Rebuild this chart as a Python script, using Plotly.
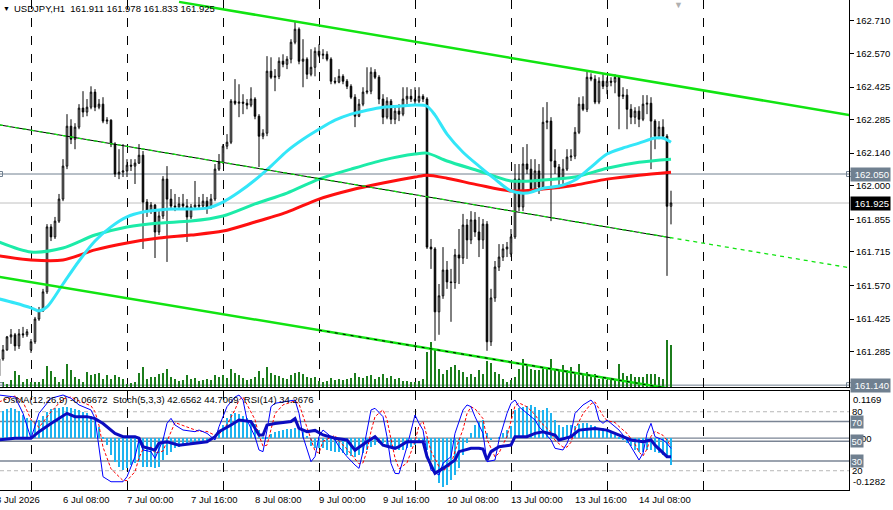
import plotly.graph_objects as go

# ---------------- DATA ----------------
FIRST_BAR = -8          # bar index of the first visible H1 bar (6 Jul 00:00 = bar 0)

opens = [161.180, 161.253, 161.292, 161.348, 161.357, 161.309, 161.361, 161.357,
         161.292, 161.327, 161.425, 161.460, 161.542, 161.822, 161.779, 161.847, 161.942, 162.084,
         162.256, 162.200, 162.252, 162.334, 162.317, 162.338, 162.403, 162.338, 162.351, 162.278,
         162.282, 162.179, 162.050, 162.058, 162.063, 162.088, 162.084, 162.097, 162.131, 161.929,
         161.890, 161.916, 161.800, 161.869, 162.028, 161.942, 161.912, 161.908, 161.921, 161.912,
         161.865, 161.908, 161.916, 161.912, 161.933, 161.908, 161.942, 162.071, 162.101, 162.170,
         162.187, 162.364, 162.355, 162.360, 162.355, 162.347, 162.373, 162.299, 162.213, 162.226,
         162.493, 162.467, 162.471, 162.536, 162.523, 162.545, 162.618, 162.674, 162.536, 162.545,
         162.480, 162.510, 162.579, 162.562, 162.566, 162.545, 162.450, 162.446, 162.471, 162.450,
         162.428, 162.381, 162.299, 162.351, 162.403, 162.407, 162.489, 162.467, 162.373, 162.295,
         162.364, 162.286, 162.321, 162.308, 162.373, 162.385, 162.373, 162.364, 162.385, 162.373,
         161.735, 161.727, 161.456, 161.525, 161.636, 161.585, 161.582, 161.701, 161.688, 161.830,
         161.766, 161.852, 161.800, 161.766, 161.834, 161.327, 161.516, 161.649, 161.692, 161.727,
         161.705, 161.779, 162.028, 161.908, 162.093, 162.071, 161.985, 162.063, 161.994, 162.273,
         162.278, 162.106, 162.080, 162.028, 162.071, 162.123, 162.127, 162.230, 162.351, 162.329,
         162.467, 162.459, 162.360, 162.450, 162.428, 162.450, 162.446, 162.467, 162.385, 162.390,
         162.329, 162.295, 162.321, 162.286, 162.351, 162.355, 162.278, 162.213, 162.252, 162.213,
         161.911]
highs = [161.275, 161.313, 161.352, 161.382, 161.365, 161.382, 161.391, 161.382,
         161.339, 161.434, 161.477, 161.555, 161.834, 161.834, 161.865, 161.964, 162.114, 162.308,
         162.286, 162.269, 162.351, 162.407, 162.373, 162.428, 162.416, 162.373, 162.381, 162.295,
         162.286, 162.187, 162.157, 162.179, 162.114, 162.114, 162.114, 162.179, 162.149, 161.942,
         161.929, 161.921, 161.890, 162.041, 162.084, 161.985, 161.964, 161.951, 161.964, 161.942,
         161.921, 162.020, 161.951, 161.964, 161.951, 161.964, 162.093, 162.136, 162.179, 162.222,
         162.373, 162.459, 162.437, 162.394, 162.373, 162.424, 162.381, 162.308, 162.243, 162.558,
         162.553, 162.502, 162.553, 162.566, 162.558, 162.631, 162.708, 162.682, 162.631, 162.553,
         162.588, 162.596, 162.609, 162.588, 162.579, 162.553, 162.467, 162.502, 162.480, 162.459,
         162.437, 162.394, 162.373, 162.424, 162.510, 162.510, 162.502, 162.476, 162.394, 162.381,
         162.373, 162.338, 162.351, 162.424, 162.424, 162.416, 162.424, 162.424, 162.394, 162.381,
         161.770, 161.735, 161.576, 161.735, 161.675, 161.641, 161.727, 161.813, 161.878, 161.856,
         161.890, 161.886, 161.865, 161.856, 161.847, 161.555, 161.675, 161.748, 161.748, 161.757,
         161.813, 162.093, 162.093, 162.166, 162.179, 162.114, 162.114, 162.093, 162.338, 162.360,
         162.295, 162.157, 162.093, 162.114, 162.157, 162.157, 162.252, 162.381, 162.385, 162.493,
         162.484, 162.476, 162.467, 162.480, 162.467, 162.467, 162.480, 162.476, 162.424, 162.416,
         162.351, 162.338, 162.342, 162.390, 162.390, 162.381, 162.286, 162.278, 162.286, 162.222,
         161.978]
lows = [161.159, 161.245, 161.288, 161.318, 161.288, 161.296, 161.344, 161.348,
        161.279, 161.318, 161.417, 161.456, 161.533, 161.761, 161.770, 161.839, 161.933, 162.071,
        162.179, 162.157, 162.243, 162.295, 162.299, 162.329, 162.321, 162.329, 162.269, 162.265,
        162.166, 162.037, 162.028, 162.037, 162.037, 162.063, 162.007, 162.093, 161.727, 161.865,
        161.878, 161.688, 161.787, 161.856, 161.671, 161.899, 161.890, 161.899, 161.899, 161.757,
        161.856, 161.899, 161.899, 161.899, 161.878, 161.899, 161.933, 162.063, 162.093, 162.157,
        162.179, 162.347, 162.295, 162.308, 162.329, 162.338, 162.286, 162.080, 162.200, 162.213,
        162.459, 162.407, 162.459, 162.510, 162.502, 162.527, 162.609, 162.523, 162.424, 162.459,
        162.471, 162.471, 162.553, 162.545, 162.536, 162.437, 162.437, 162.441, 162.437, 162.416,
        162.373, 162.252, 162.295, 162.342, 162.394, 162.394, 162.459, 162.351, 162.265, 162.286,
        162.265, 162.265, 162.278, 162.299, 162.351, 162.360, 162.351, 162.355, 162.360, 161.727,
        161.641, 161.331, 161.357, 161.512, 161.555, 161.413, 161.555, 161.576, 161.662, 161.684,
        161.748, 161.779, 161.692, 161.727, 161.288, 161.309, 161.499, 161.632, 161.675, 161.692,
        161.692, 161.770, 161.890, 161.890, 162.050, 161.977, 161.977, 161.964, 161.985, 162.243,
        161.847, 162.050, 161.985, 162.007, 162.063, 162.106, 162.114, 162.222, 162.321, 162.317,
        162.450, 162.351, 162.351, 162.416, 162.394, 162.428, 162.398, 162.243, 162.373, 162.243,
        162.265, 162.265, 162.252, 162.278, 162.308, 162.071, 162.157, 162.200, 162.200, 161.611,
        161.833]
closes = [161.253, 161.292, 161.348, 161.357, 161.309, 161.361, 161.357, 161.370,
          161.327, 161.425, 161.460, 161.542, 161.822, 161.779, 161.847, 161.942, 162.084, 162.256,
          162.200, 162.252, 162.334, 162.317, 162.338, 162.403, 162.338, 162.351, 162.278, 162.282,
          162.179, 162.050, 162.058, 162.063, 162.088, 162.084, 162.097, 162.131, 161.929, 161.890,
          161.916, 161.800, 161.869, 162.028, 161.942, 161.912, 161.908, 161.921, 161.912, 161.865,
          161.908, 161.916, 161.912, 161.933, 161.908, 161.942, 162.071, 162.101, 162.170, 162.187,
          162.364, 162.355, 162.360, 162.355, 162.347, 162.373, 162.299, 162.213, 162.226, 162.493,
          162.467, 162.471, 162.536, 162.523, 162.545, 162.618, 162.674, 162.536, 162.545, 162.480,
          162.510, 162.579, 162.562, 162.566, 162.545, 162.450, 162.446, 162.471, 162.450, 162.428,
          162.381, 162.299, 162.351, 162.403, 162.407, 162.489, 162.467, 162.373, 162.295, 162.364,
          162.286, 162.321, 162.308, 162.373, 162.385, 162.373, 162.364, 162.385, 162.373, 161.735,
          161.727, 161.456, 161.525, 161.636, 161.585, 161.582, 161.701, 161.688, 161.830, 161.766,
          161.852, 161.800, 161.766, 161.834, 161.327, 161.516, 161.649, 161.692, 161.727, 161.735,
          161.779, 162.028, 161.908, 162.093, 162.071, 161.985, 162.063, 161.994, 162.273, 162.278,
          162.106, 162.080, 162.028, 162.071, 162.123, 162.127, 162.230, 162.351, 162.329, 162.467,
          162.459, 162.360, 162.450, 162.428, 162.450, 162.446, 162.467, 162.385, 162.390, 162.329,
          162.295, 162.321, 162.286, 162.351, 162.355, 162.278, 162.213, 162.252, 162.213, 161.911,
          161.925]
volumes = [400, 500, 300, 700, 1600, 1200, 500, 800,
           500, 500, 500, 800, 2100, 1600, 1000, 500, 800, 2300,
           1700, 1000, 800, 500, 1500, 1200, 1300, 1400, 800, 1200,
           800, 1200, 1000, 800, 300, 400, 500, 1400, 2000, 800,
           1000, 1000, 1300, 1400, 1800, 1000, 800, 600, 700, 1200,
           800, 900, 600, 700, 800, 700, 1200, 1000, 1200, 900,
           1800, 1400, 1200, 900, 700, 800, 1000, 1600, 900, 2000,
           1400, 1200, 1100, 900, 800, 1200, 1400, 1500, 1300, 1000,
           900, 1000, 600, 500, 600, 900, 700, 800, 700, 800,
           900, 1400, 1000, 900, 1100, 1200, 800, 1000, 1300, 900,
           1100, 800, 900, 600, 600, 500, 500, 600, 800, 3500,
           4500, 3700, 1800, 1300, 1700, 2000, 2200, 1700, 1500, 1000,
           1300, 1000, 1700, 1300, 2600, 2400, 1500, 1300, 800, 500,
           700, 1000, 1800, 2800, 2200, 1800, 1700, 1700, 2000, 1800,
           2800, 1800, 1700, 2200, 1700, 2000, 1300, 2300, 1300, 1500,
           1200, 1300, 800, 1000, 700, 700, 800, 2300, 1400, 1100,
           1300, 1000, 1000, 1000, 1300, 1300, 1300, 1000, 800, 4700,
           4200]
osma = [0.066, 0.067, 0.072, 0.075, 0.072, 0.067, 0.057, 0.050,
        0.045, 0.040, 0.045, 0.055, 0.065, 0.072, 0.075, 0.075, 0.078, 0.078,
        0.075, 0.072, 0.070, 0.066, 0.062, 0.055, 0.045, 0.028, 0.003, -0.017,
        -0.042, -0.059, -0.071, -0.079, -0.074, -0.066, -0.061, -0.059, -0.071, -0.071,
        -0.071, -0.074, -0.071, -0.054, -0.042, -0.033, -0.024, -0.021, -0.017, -0.014,
        -0.013, -0.011, -0.009, -0.009, -0.007, -0.002, 0.005, 0.015, 0.033, 0.050,
        0.060, 0.062, 0.060, 0.055, 0.050, 0.045, 0.035, 0.020, 0.003, 0.003,
        0.010, 0.015, 0.018, 0.020, 0.022, 0.023, 0.025, 0.020, 0.015, 0.005,
        -0.019, -0.024, -0.024, -0.024, -0.029, -0.031, -0.033, -0.033, -0.037, -0.042,
        -0.044, -0.046, -0.042, -0.037, -0.029, -0.021, -0.017, -0.013, -0.013, -0.021,
        -0.024, -0.024, -0.029, -0.029, -0.024, -0.022, -0.017, -0.012, -0.009, -0.029,
        -0.054, -0.086, -0.111, -0.120, -0.116, -0.103, -0.091, -0.074, -0.042, -0.012,
        0.013, 0.033, 0.040, 0.045, 0.013, -0.004, 0.000, 0.003, 0.013, 0.020,
        0.030, 0.070, 0.075, 0.077, 0.080, 0.082, 0.078, 0.070, 0.070, 0.075,
        0.062, 0.045, 0.033, 0.028, 0.033, 0.033, 0.030, 0.035, 0.038, 0.038,
        0.033, 0.030, 0.025, 0.025, 0.020, 0.015, 0.008, 0.003, -0.004, -0.012,
        -0.019, -0.029, -0.034, -0.034, -0.029, -0.029, -0.034, -0.037, -0.042, -0.049,
        -0.06672]

# moving averages (sampled bars)
fast_ma_bars = [-8, -4, 0, 2, 4, 8, 12, 16, 20, 24, 28, 32, 36, 40, 44, 48, 52, 56, 60, 64,
                68, 72, 76, 80, 84, 88, 92, 96, 99, 101, 104, 108, 112, 116, 120, 124, 128, 132,
                136, 140, 144, 148, 152, 156, 158, 160]
fast_ma = [161.512, 161.494, 161.473, 161.460, 161.477, 161.576, 161.675, 161.761, 161.822, 161.865,
           161.886, 161.895, 161.899, 161.899, 161.903, 161.929, 161.972, 162.024, 162.084, 162.149,
           162.200, 162.243, 162.282, 162.308, 162.325, 162.338, 162.342, 162.347, 162.342, 162.304,
           162.222, 162.144, 162.084, 162.028, 161.977, 161.968, 161.989, 161.998, 162.024, 162.080,
           162.136, 162.162, 162.183, 162.205, 162.205, 162.187]
slow_ma_bars = [-8, 0, 8, 16, 24, 32, 40, 48, 56, 64, 72, 80, 88, 96, 99, 104, 112, 120, 128,
                136, 144, 152, 160]
mid_ma = [161.757, 161.714, 161.731, 161.787, 161.822, 161.839, 161.847, 161.869, 161.921, 161.968,
          162.028, 162.071, 162.110, 162.136, 162.140, 162.106, 162.063, 162.020, 162.024, 162.037,
          162.075, 162.101, 162.114]
slow_ma = [161.697, 161.679, 161.679, 161.723, 161.753, 161.774, 161.787, 161.804, 161.843, 161.886,
           161.942, 161.981, 162.011, 162.037, 162.045, 162.032, 162.002, 161.977, 161.985, 162.002,
           162.028, 162.045, 162.058]

# channel trend lines (anchor bars, prices)
upper_bars, upper_prices = [37, 205], [162.792, 162.303]
middle_bars, middle_prices = [-8, 160, 205], [162.262, 161.775, 161.645]
lower_bars, lower_prices = [-8, 160], [161.607, 161.124]
lower_mark_bars, lower_mark_prices = [72, 160], [161.377, 161.124]

# oscillators
rsi_bars = [-8, -4, 0, 2, 5, 9, 11, 14, 16, 18, 21, 23, 26, 27, 28, 31, 32, 34, 37, 41,
            44, 46, 47, 50, 52, 55, 57, 58, 59, 61, 65, 66, 67, 69, 71, 73, 76, 79, 81, 84,
            86, 88, 91, 92, 94, 98, 99, 101, 103, 106, 107, 110, 112, 113, 114, 115, 117, 120,
            121, 124, 126, 128, 131, 132, 135, 137, 141, 144, 147, 150, 153, 155, 156, 159, 160]
rsi = [51.3, 53.0, 53.0, 59.7, 68.0, 78.4, 75.0, 75.0, 73.0, 68.0, 58.0, 54.6, 54.6, 53.0, 44.5,
       41.0, 48.0, 49.5, 46.0, 48.0, 49.5, 54.6, 59.7, 66.5, 71.6, 70.0, 56.4, 56.4, 66.5, 68.0,
       70.0, 73.0, 63.0, 59.7, 61.0, 56.4, 53.0, 51.3, 41.0, 49.5, 54.6, 46.0, 42.8, 44.5, 49.5,
       49.5, 34.3, 17.4, 22.4, 30.9, 39.4, 42.8, 42.8, 42.0, 30.9, 39.4, 44.5, 46.1, 54.6, 54.6,
       58.0, 59.7, 56.4, 51.3, 54.6, 61.3, 63.0, 61.3, 56.4, 51.3, 49.5, 51.3, 46.0, 34.3, 34.2676]
stoch_bars = [-8, -4, -2, 0, 2, 5, 8, 10, 12, 15, 16, 17, 18, 20, 23, 24, 26, 27, 28, 30,
              31, 33, 34, 35, 36, 38, 41, 42, 44, 46, 47, 49, 51, 52, 53, 54, 56, 57, 58, 59,
              60, 61, 63, 65, 66, 67, 68, 70, 71, 72, 73, 76, 77, 79, 81, 82, 83, 84, 85, 86,
              88, 89, 90, 91, 92, 94, 96, 97, 98, 99, 100, 102, 103, 105, 106, 108, 109, 110, 111, 113,
              114, 116, 117, 119, 120, 121, 122, 124, 126, 127, 130, 131, 133, 134, 135, 136, 138, 140, 141, 142,
              143, 144, 146, 147, 149, 151, 152, 153, 154, 155, 156, 158, 159, 160]
stoch_main = [97.0, 95.0, 78.4, 52.9, 78.4, 93.7, 97.0, 93.7, 86.9, 81.8,
              73.3, 44.5, 13.9, 8.8, 8.8, 13.9, 34.3, 51.3, 41.1, 39.4,
              32.6, 51.3, 68.2, 73.3, 66.5, 61.4, 59.7, 61.4, 58.0, 51.3,
              64.8, 85.2, 95.0, 97.0, 91.9, 71.6, 54.6, 41.1, 39.4, 61.4,
              85.2, 88.6, 90.3, 91.3, 91.9, 78.4, 54.6, 29.2, 34.3, 54.6,
              61.4, 51.3, 44.5, 34.3, 25.8, 22.4, 39.4, 61.4, 81.8, 83.5,
              75.0, 54.6, 27.5, 17.3, 17.0, 44.5, 76.7, 68.2, 61.4, 37.7,
              20.7, 15.6, 27.5, 34.3, 58.0, 81.8, 86.9, 85.2, 75.0, 58.0,
              29.2, 30.9, 51.3, 78.4, 88.6, 91.9, 85.2, 78.4, 71.6, 64.8,
              51.3, 42.8, 41.1, 47.9, 58.0, 78.4, 86.9, 91.9, 86.9, 71.6,
              68.2, 71.6, 64.8, 61.4, 51.3, 37.7, 30.9, 37.7, 58.0, 68.2,
              54.6, 51.3, 47.9, 42.6562]
stoch_signal = [90, 96, 90, 72, 64, 80, 93, 95, 91, 86,
                80, 66, 44, 22, 10, 10, 19, 33, 42, 44,
                38, 40, 50, 60, 69, 66, 61, 60, 60, 56,
                57, 67, 82, 92, 95, 87, 72, 56, 45, 46,
                62, 78, 87, 90, 91, 88, 76, 54, 40, 38,
                50, 56, 50, 42, 32, 27, 28, 40, 60, 75,
                82, 72, 52, 33, 22, 28, 50, 66, 70, 56,
                40, 24, 20, 26, 40, 62, 78, 85, 83, 73,
                52, 34, 38, 55, 72, 86, 89, 85, 77, 71,
                59, 51, 44, 44, 49, 62, 78, 88, 90, 83,
                76, 71, 69, 65, 58, 47, 39, 35, 42, 55,
                60, 56, 51, 44.7069]

# horizontal price objects
level_line_prices = [162.050, 161.140]
bid_price = 161.925

# axes / labels
price_ticks = [162.710, 162.570, 162.425, 162.285, 162.140, 162.000,
               161.855, 161.715, 161.570, 161.425, 161.285]
day_start_bars = [0, 24, 48, 72, 96, 120, 144, 168]
time_label_bars = [-8.8, 8, 24, 40, 56, 72, 88, 104, 120, 136, 152]
time_labels = ["3 Jul 2026", "6 Jul 08:00", "7 Jul 00:00", "7 Jul 16:00", "8 Jul 08:00",
               "9 Jul 00:00", "9 Jul 16:00", "10 Jul 08:00", "13 Jul 00:00", "13 Jul 16:00",
               "14 Jul 08:00"]
stoch_levels_dashed = [80, 20]
stoch_levels_solid = [70, 50, 30]
OSMA_RANGE = [-0.1282, 0.1169]

# ---------------- LAYOUT CONSTANTS ----------------
W, H = 893, 510
X_RANGE = [-7.75, 204.5]
PRICE_RANGE = [161.132, 162.800]
VOL_RANGE = [0, 38700]
OSC_RANGE = [0.4, 101.1]
MAIN_BOTTOM = 1 - 387 / 490
IND_TOP = (490 - 391) / 490
FONT = "Liberation Sans, Arial, sans-serif"
FS = 9.5
GRAY = "#708090"

bars = list(range(FIRST_BAR, FIRST_BAR + len(closes)))

fig = go.Figure()

# volumes (base main subplot, drawn underneath)
fig.add_trace(go.Bar(x=bars, y=volumes, width=0.25, marker=dict(color="#1c7c1c", line=dict(width=0)),
                     xaxis="x", yaxis="y", hoverinfo="skip"))

# candles
fig.add_trace(go.Candlestick(
    x=bars, open=opens, high=highs, low=lows, close=closes, xaxis="x", yaxis="y4",
    increasing=dict(line=dict(color="black", width=1), fillcolor="white"),
    decreasing=dict(line=dict(color="black", width=1), fillcolor="black"),
    whiskerwidth=0, hoverinfo="skip"))

# moving averages
for xs, ys, col in [(slow_ma_bars, slow_ma, "#FF1010"),
                    (slow_ma_bars, mid_ma, "#1CEBA8"),
                    (fast_ma_bars, fast_ma, "#33E6F8")]:
    fig.add_trace(go.Scatter(x=xs, y=ys, mode="lines", line=dict(color=col, width=3, shape="spline", smoothing=0.8),
                             xaxis="x", yaxis="y4", hoverinfo="skip"))

# channel lines
fig.add_trace(go.Scatter(x=upper_bars, y=upper_prices, mode="lines", line=dict(color="#11E411", width=2.5),
                         xaxis="x", yaxis="y4", hoverinfo="skip"))
fig.add_trace(go.Scatter(x=lower_bars, y=lower_prices, mode="lines", line=dict(color="#11E411", width=2.5),
                         xaxis="x", yaxis="y4", hoverinfo="skip"))
fig.add_trace(go.Scatter(x=lower_mark_bars, y=lower_mark_prices, mode="lines",
                         line=dict(color="black", width=1, dash="3px,5px"),
                         xaxis="x", yaxis="y4", hoverinfo="skip"))
fig.add_trace(go.Scatter(x=middle_bars[:2], y=middle_prices[:2], mode="lines", line=dict(color="black", width=1),
                         xaxis="x", yaxis="y4", hoverinfo="skip"))
fig.add_trace(go.Scatter(x=middle_bars, y=middle_prices, mode="lines",
                         line=dict(color="#11E411", width=1.3, dash="4px,4px"),
                         xaxis="x", yaxis="y4", hoverinfo="skip"))

# end markers of horizontal line objects
for p in level_line_prices:
    fig.add_trace(go.Scatter(x=X_RANGE, y=[p, p], mode="markers", cliponaxis=False,
                             marker=dict(symbol="square-open", size=5, color=GRAY, line=dict(width=1, color=GRAY)),
                             xaxis="x", yaxis="y4", hoverinfo="skip"))

# OsMA histogram (base indicator subplot)
fig.add_trace(go.Bar(x=bars, y=osma, width=0.65, marker=dict(color="#1EB4F0", line=dict(width=0)),
                     xaxis="x2", yaxis="y2", hoverinfo="skip"))
# Stochastic + RSI
fig.add_trace(go.Scatter(x=stoch_bars, y=stoch_signal, mode="lines", line=dict(color="#FF0000", width=1, dash="3px,2px"),
                         xaxis="x2", yaxis="y3", hoverinfo="skip"))
fig.add_trace(go.Scatter(x=stoch_bars, y=stoch_main, mode="lines", line=dict(color="#0000FF", width=1),
                         xaxis="x2", yaxis="y3", hoverinfo="skip"))
fig.add_trace(go.Scatter(x=rsi_bars, y=rsi, mode="lines", line=dict(color="#0C0CC0", width=3),
                         xaxis="x2", yaxis="y3", hoverinfo="skip"))

shapes = []
for p in level_line_prices:
    shapes.append(dict(type="line", xref="paper", x0=0, x1=1, yref="y4", y0=p, y1=p,
                       line=dict(color=GRAY, width=1), layer="below"))
shapes.append(dict(type="line", xref="paper", x0=0, x1=1, yref="y4", y0=bid_price, y1=bid_price,
                   line=dict(color="#C0C0C0", width=1), layer="below"))
for lv in stoch_levels_dashed:
    shapes.append(dict(type="line", xref="paper", x0=0, x1=1, yref="y3", y0=lv, y1=lv,
                       line=dict(color="#B8B8B8", width=1, dash="4px,3px"), layer="below"))
for lv in stoch_levels_solid:
    shapes.append(dict(type="line", xref="paper", x0=0, x1=1, yref="y3", y0=lv, y1=lv,
                       line=dict(color="#7A8494", width=1.5), layer="below"))
shapes.append(dict(type="line", xref="paper", x0=0, x1=1, yref="y2", y0=0, y1=0,
                   line=dict(color="#7A8494", width=1.2), layer="below"))

ann = []
# chart title
ann.append(dict(text="▼", xref="paper", yref="paper", x=0, y=1, xanchor="left", yanchor="top",
                xshift=1, yshift=-3, showarrow=False, font=dict(size=7, color="black", family=FONT)))
title = "USDJPY,H1\u00a0\u00a0{:.3f} {:.3f} {:.3f} {:.3f}".format(opens[-1], highs[-1], lows[-1], closes[-1])
ann.append(dict(text=title, xref="paper", yref="paper", x=0, y=1, xanchor="left", yanchor="top",
                xshift=12, yshift=-1, showarrow=False, font=dict(size=FS, color="black", family=FONT)))
# indicator title
ind_title = "OsMA(12,26,9) {:.5f}\u00a0\u00a0Stoch(5,3,3) {:.4f} {:.4f}\u00a0\u00a0RSI(14) {:.4f}".format(
    osma[-1], stoch_main[-1], stoch_signal[-1], rsi[-1])
ann.append(dict(text=ind_title, xref="paper", yref="paper", x=0, y=IND_TOP, xanchor="left", yanchor="top",
                xshift=1, yshift=-1, showarrow=False, font=dict(size=FS, color="black", family=FONT)))
# time labels (left-aligned at their bar, like MT4)
x_span = X_RANGE[1] - X_RANGE[0]
for b, t in zip(time_label_bars, time_labels):
    ann.append(dict(text=t, xref="paper", yref="paper", x=(b - X_RANGE[0]) / x_span, y=0,
                    xanchor="left", yanchor="top", xshift=-2, yshift=-2, showarrow=False,
                    font=dict(size=FS, color="black", family=FONT)))
# price boxes on right axis
for p, bg in [(level_line_prices[0], GRAY), (bid_price, "black"), (level_line_prices[1], GRAY)]:
    ann.append(dict(text="\u00a0{:.3f}".format(p), xref="paper", yref="y4", x=1, y=p, xanchor="left",
                    yanchor="middle", xshift=1, showarrow=False, bgcolor=bg, borderpad=1,
                    font=dict(size=FS, color="white", family=FONT)))
# indicator scale labels
ann.append(dict(text="{:.4f}".format(OSMA_RANGE[1]), xref="paper", yref="y2", x=1, y=OSMA_RANGE[1],
                xanchor="left", yanchor="top", xshift=2, yshift=-1, showarrow=False,
                font=dict(size=FS, color="black", family=FONT)))
ann.append(dict(text="{:.4f}".format(OSMA_RANGE[0]), xref="paper", yref="y2", x=1, y=OSMA_RANGE[0],
                xanchor="left", yanchor="bottom", xshift=2, yshift=1, showarrow=False,
                font=dict(size=FS, color="black", family=FONT)))
ann.append(dict(text="0.00", xref="paper", yref="y2", x=1, y=0, xanchor="left", yanchor="middle",
                xshift=2, showarrow=False, font=dict(size=FS, color="black", family=FONT)))
for lv in stoch_levels_dashed:
    ann.append(dict(text=str(lv), xref="paper", yref="y3", x=1, y=lv, xanchor="left", yanchor="middle",
                    xshift=1, showarrow=False, font=dict(size=FS, color="black", family=FONT)))
for lv in stoch_levels_solid:
    ann.append(dict(text=str(lv), xref="paper", yref="y3", x=1, y=lv, xanchor="left", yanchor="middle",
                    xshift=1, showarrow=False, bgcolor=GRAY, borderpad=0.5,
                    font=dict(size=FS, color="white", family=FONT)))
# chart shift marker
ann.append(dict(text="▼", xref="paper", yref="paper", x=678 / 849, y=1, xanchor="center", yanchor="top",
                yshift=2, showarrow=False, font=dict(size=9, color="#B0B0B0", family=FONT)))

fig.update_layout(
    width=W, height=H, margin=dict(l=0, r=44, t=0, b=20),
    paper_bgcolor="white", plot_bgcolor="white", showlegend=False, hovermode=False,
    boxgap=0.45, bargap=0, font=dict(family=FONT, size=FS, color="black"),
    shapes=shapes, annotations=ann,
    xaxis=dict(domain=[0, 1], anchor="y", range=X_RANGE, tickvals=day_start_bars, showticklabels=False,
               ticks="", showgrid=True, gridcolor="black", griddash="dash", gridwidth=1,
               showline=True, linecolor="black", linewidth=1, zeroline=False,
               rangeslider=dict(visible=False), fixedrange=True),
    yaxis=dict(domain=[MAIN_BOTTOM, 1], anchor="x", range=VOL_RANGE, visible=False, fixedrange=True),
    yaxis4=dict(overlaying="y", anchor="x", side="right", range=PRICE_RANGE, tickvals=price_ticks,
                ticktext=["{:.3f}".format(v) for v in price_ticks], ticks="outside", ticklen=4,
                tickcolor="black", showline=True, linecolor="black", linewidth=1, showgrid=False,
                zeroline=False, tickfont=dict(size=FS, color="black", family=FONT), fixedrange=True),
    xaxis2=dict(domain=[0, 1], anchor="y2", matches="x", range=X_RANGE, tickvals=day_start_bars,
                showticklabels=False, ticks="", showgrid=True, gridcolor="black", griddash="dash",
                gridwidth=1, showline=True, mirror=True, linecolor="black", linewidth=1, zeroline=False,
                fixedrange=True),
    yaxis2=dict(domain=[0, IND_TOP], anchor="x2", side="right", range=OSMA_RANGE, showticklabels=False,
                ticks="", showgrid=False, zeroline=False, showline=True, linecolor="black", linewidth=1,
                fixedrange=True),
    yaxis3=dict(overlaying="y2", anchor="x2", range=OSC_RANGE, visible=False, fixedrange=True),
)

fig.write_html("out.html")
